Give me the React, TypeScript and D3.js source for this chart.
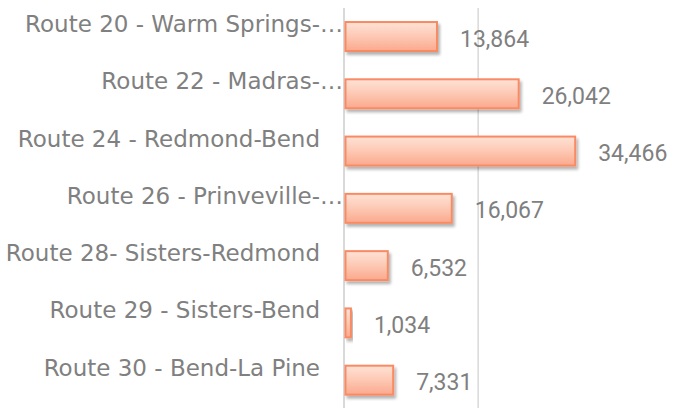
import React from 'react';
import * as d3 from 'd3';

const routes = [
  'Route 20 - Warm Springs-…',
  'Route 22 - Madras-…',
  'Route 24 - Redmond-Bend',
  'Route 26 - Prinveville-…',
  'Route 28- Sisters-Redmond',
  'Route 29 - Sisters-Bend',
  'Route 30 - Bend-La Pine',
];
const truncated = [true, true, false, true, false, false, false];
const riders = [13864, 26042, 34466, 16067, 6532, 1034, 7331];
const gridTicks = [0, 20000];

const App: React.FC = () => {
  const width = 688;
  const height = 408;
  const axisX = 344;

  const x = d3.scaleLinear().domain([0, 40000]).range([axisX, 612.3]);
  const y = d3.scaleBand<string>()
    .domain(routes)
    .range([7.7, 409])
    .paddingInner(0.494)
    .paddingOuter(0.25);

  const fmt = d3.format(',');

  return (
    <div style={{ position: 'fixed', left: 0, top: 0 }}>
      <svg width={width} height={height} viewBox={`0 0 ${width} ${height}`} style={{ display: 'block', background: '#fff' }}>
        <defs>
          <linearGradient id="barFill" x1="0" y1="0" x2="0" y2="1">
            <stop offset="0%" stopColor="#fee2d6" />
            <stop offset="45%" stopColor="#fdcbb7" />
            <stop offset="100%" stopColor="#fba98d" />
          </linearGradient>
          <filter id="barShadow" x="-10%" y="-30%" width="130%" height="180%">
            <feGaussianBlur in="SourceAlpha" stdDeviation="1.5" />
            <feOffset dx="2" dy="2.5" result="off" />
            <feComponentTransfer>
              <feFuncA type="linear" slope="0.3" />
            </feComponentTransfer>
            <feMerge>
              <feMergeNode />
              <feMergeNode in="SourceGraphic" />
            </feMerge>
          </filter>
        </defs>

        {/* gridlines */}
        {gridTicks.map(t => (
          <line
            key={`g-${t}`}
            x1={x(t)} x2={x(t)} y1={8} y2={height}
            stroke="#d9d9d9"
            strokeWidth={t === 0 ? 2 : 1.5}
          />
        ))}

        {/* bars */}
        {routes.map((r, i) => (
          <rect
            key={`bar-${r}`}
            x={x(0) + 1.5}
            y={y(r)!}
            width={Math.max(0, x(riders[i]) - x(0) - 1.5)}
            height={y.bandwidth()}
            fill="url(#barFill)"
            stroke="#f98b64"
            strokeWidth={2}
            filter="url(#barShadow)"
          />
        ))}

        {/* category labels */}
        {routes.map((r, i) => (
          <text
            key={`lab-${r}`}
            x={truncated[i] ? 343 : 320}
            y={y(r)! + y.bandwidth() / 2 - 4.5}
            textAnchor="end"
            fontFamily="'DejaVu Sans', sans-serif"
            fontSize={23}
            fill="#808080"
          >
            {r}
          </text>
        ))}

        {/* value labels */}
        {routes.map((r, i) => (
          <text
            key={`val-${r}`}
            x={x(riders[i]) + 23}
            y={y(r)! + y.bandwidth() / 2 + 10}
            fontFamily="Roboto, sans-serif"
            fontSize={23}
            fill="#7f7f7f"
          >
            {fmt(riders[i])}
          </text>
        ))}
      </svg>
    </div>
  );
};

export default App;
